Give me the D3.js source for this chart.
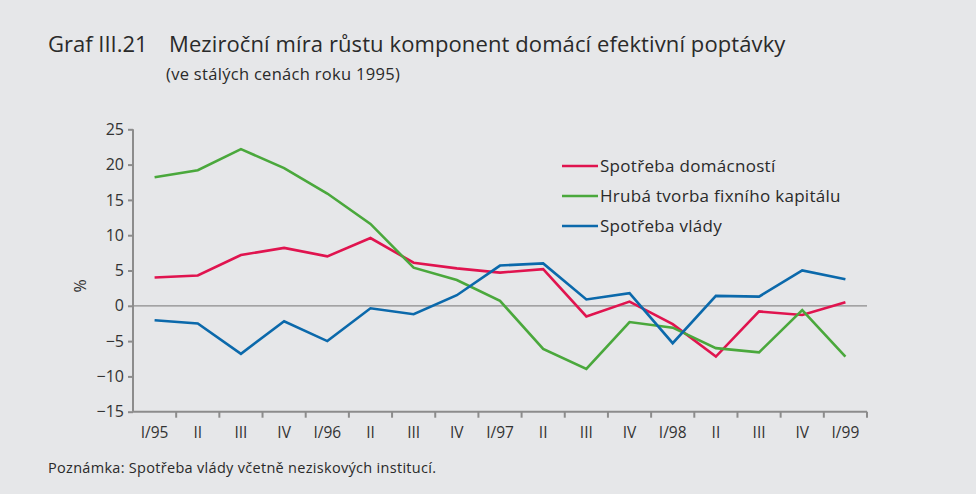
<!DOCTYPE html>
<html>
<head>
<meta charset="utf-8">
<script src="https://cdn.jsdelivr.net/npm/d3@7"></script>
<style>
  body { margin: 0; background: #e6e7e9; }
  svg { display: block; font-family: "Open Sans", "DejaVu Sans", sans-serif; }
</style>
</head>
<body>
<script>
// quarters I/95 .. I/99
var quarters = ['I/95','II','III','IV','I/96','II ','III ','IV ','I/97','II  ','III  ','IV  ','I/98','II   ','III   ','IV   ','I/99']
var households = [4.0, 4.3, 7.2, 8.2, 7.0, 9.6, 6.1, 5.3, 4.7, 5.2, -1.5, 0.6, -2.6, -7.2, -0.8, -1.3, 0.5]
var fixedCapital = [18.2, 19.2, 22.2, 19.5, 15.9, 11.6, 5.4, 3.65, 0.7, -6.1, -8.95, -2.3, -3.1, -6.0, -6.6, -0.6, -7.2]
var government = [-2.05, -2.5, -6.8, -2.2, -5.0, -0.35, -1.2, 1.5, 5.7, 6.0, 0.9, 1.8, -5.3, 1.4, 1.3, 5.0, 3.75]
var yTicks = [25, 20, 15, 10, 5, 0, -5, -10, -15]

var series = [
    {name: 'Spotřeba domácností', values: households, color: '#e0144f'},
    {name: 'Hrubá tvorba fixního kapitálu', values: fixedCapital, color: '#4aa83c'},
    {name: 'Spotřeba vlády', values: government, color: '#0b69ab'}
]

var svgWidth = 976, svgHeight = 494
var svg = d3.select('body').append('svg')
    .attr('width', svgWidth)
    .attr('height', svgHeight)

svg.append('rect').attr('width', svgWidth).attr('height', svgHeight).attr('fill', '#e6e7e9')

var xScale = d3.scaleBand().domain(quarters).range([133, 867])
var yScale = d3.scaleLinear().domain([-15, 25]).range([411.7, 129.3])
var axisColor = '#8c8c8c'

// title
svg.append('text').attr('x', 48).attr('y', 52)
    .attr('font-size', '22px').attr('fill', '#2a2a2a')
    .text('Graf III.21')
svg.append('text').attr('x', 169).attr('y', 52)
    .attr('font-size', '22px').attr('fill', '#2a2a2a')
    .attr('letter-spacing', '0.1px')
    .text('Meziroční míra růstu komponent domácí efektivní poptávky')
svg.append('text').attr('x', 166).attr('y', 80)
    .attr('font-size', '16.5px').attr('fill', '#2a2a2a')
    .attr('letter-spacing', '0.3px')
    .text('(ve stálých cenách roku 1995)')

// zero line
svg.append('line')
    .attr('x1', 133).attr('x2', 867)
    .attr('y1', yScale(0)).attr('y2', yScale(0))
    .attr('stroke', axisColor).attr('stroke-width', 1.3)

// y axis
var yAxis = svg.append('g').attr('transform', 'translate(133,0)')
    .call(d3.axisLeft(yScale).tickValues(yTicks).tickSize(5).tickPadding(4))
yAxis.selectAll('path, line').attr('stroke', axisColor).attr('stroke-width', 2)
yAxis.select('.domain').attr('d', 'M0,' + yScale(25) + 'V' + yScale(-15))
yAxis.selectAll('text').attr('font-size', '16px').attr('fill', '#333')
    .attr('font-family', '"Open Sans", sans-serif')

// x axis
var xAxis = svg.append('g').attr('transform', 'translate(0,' + yScale(-15) + ')')
    .call(d3.axisBottom(xScale).tickSize(0).tickPadding(15))
xAxis.select('.domain').attr('stroke', axisColor).attr('stroke-width', 2)
    .attr('d', 'M133,0H867')
xAxis.selectAll('text').attr('font-size', '15.5px').attr('fill', '#333')
    .attr('font-family', '"Open Sans", sans-serif')
    .text(function(d){ return d.trim() })
var bounds = quarters.map(function(q){ return xScale(q) + xScale.bandwidth() })
xAxis.selectAll('.bound').data(bounds).enter().append('line')
    .attr('class', 'bound')
    .attr('x1', function(d){ return d }).attr('x2', function(d){ return d })
    .attr('y1', 0).attr('y2', 6)
    .attr('stroke', axisColor).attr('stroke-width', 2)

// y label
svg.append('text')
    .attr('transform', 'translate(86,286) rotate(-90)')
    .attr('text-anchor', 'middle').attr('font-size', '16px').attr('fill', '#333')
    .text('%')

// lines
var line = d3.line()
    .x(function(d, i){ return xScale(quarters[i]) + xScale.bandwidth() / 2 })
    .y(function(d){ return yScale(d) })

series.forEach(function(s){
    svg.append('path')
        .datum(s.values)
        .attr('fill', 'none')
        .attr('stroke', s.color)
        .attr('stroke-width', 2.6)
        .attr('stroke-linejoin', 'miter')
        .attr('d', line)
})

// legend
var legend = svg.append('g').attr('transform', 'translate(562,166)')
series.forEach(function(s, i){
    var row = legend.append('g').attr('transform', 'translate(0,' + (i * 30) + ')')
    row.append('line').attr('x1', 0).attr('x2', 36).attr('y1', 0).attr('y2', 0)
        .attr('stroke', s.color).attr('stroke-width', 2.6)
    row.append('text').attr('x', 38).attr('y', 6)
        .attr('font-size', '17px').attr('fill', '#2a2a2a')
        .attr('letter-spacing', '0.3px')
        .text(s.name)
})

// note
svg.append('text').attr('x', 48).attr('y', 473)
    .attr('font-size', '14.5px').attr('fill', '#2a2a2a')
    .attr('letter-spacing', '0.3px')
    .text('Poznámka: Spotřeba vlády včetně neziskových institucí.')
</script>
</body>
</html>
